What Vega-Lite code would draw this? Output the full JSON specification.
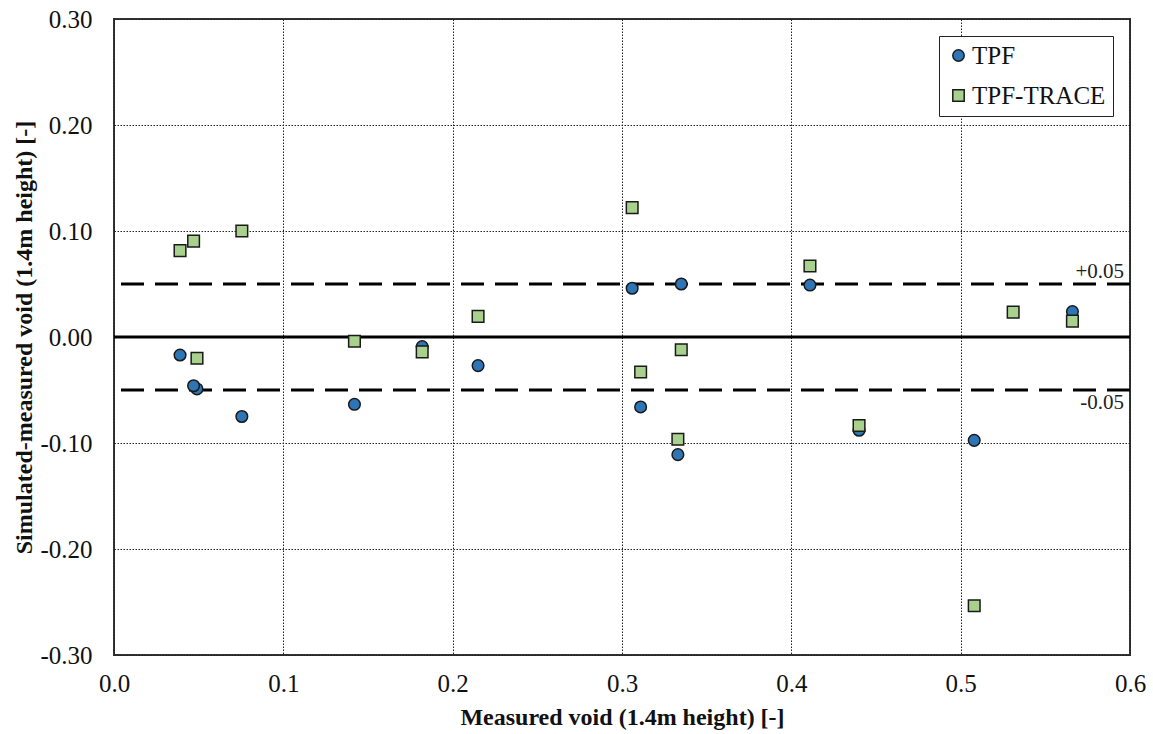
{
  "$schema": "https://vega.github.io/schema/vega-lite/v6.json",
  "autosize": "none",
  "width": 1016,
  "height": 636,
  "padding": {"left": 114, "top": 19, "right": 23, "bottom": 79},
  "background": "white",
  "config": {
    "view": {"stroke": "#333333", "strokeWidth": 2},
    "font": "Liberation Serif",
    "axis": {
      "labelFont": "Liberation Serif",
      "labelFontSize": 25,
      "labelColor": "#111111",
      "labelFlush": false,
      "labelOverlap": false,
      "titleFont": "Liberation Serif",
      "titleFontSize": 24,
      "titleFontWeight": "bold",
      "titleColor": "#111111",
      "domain": false,
      "ticks": false,
      "grid": true,
      "gridColor": "#222222",
      "gridWidth": 1,
      "gridDash": [1.5, 1.5],
      "gridOpacity": 1
    }
  },
  "datasets": {
    "points": [
      {"series": "TPF", "measured": 0.039, "diff": -0.017},
      {"series": "TPF", "measured": 0.049, "diff": -0.049},
      {"series": "TPF", "measured": 0.047, "diff": -0.046},
      {"series": "TPF", "measured": 0.0755, "diff": -0.075},
      {"series": "TPF", "measured": 0.142, "diff": -0.0635},
      {"series": "TPF", "measured": 0.182, "diff": -0.009},
      {"series": "TPF", "measured": 0.215, "diff": -0.027},
      {"series": "TPF", "measured": 0.306, "diff": 0.046},
      {"series": "TPF", "measured": 0.335, "diff": 0.050},
      {"series": "TPF", "measured": 0.311, "diff": -0.066},
      {"series": "TPF", "measured": 0.333, "diff": -0.111},
      {"series": "TPF", "measured": 0.411, "diff": 0.049},
      {"series": "TPF", "measured": 0.440, "diff": -0.088},
      {"series": "TPF", "measured": 0.508, "diff": -0.0975},
      {"series": "TPF", "measured": 0.566, "diff": 0.024},
      {"series": "TPF-TRACE", "measured": 0.039, "diff": 0.0815},
      {"series": "TPF-TRACE", "measured": 0.047, "diff": 0.0905},
      {"series": "TPF-TRACE", "measured": 0.0755, "diff": 0.100},
      {"series": "TPF-TRACE", "measured": 0.049, "diff": -0.020},
      {"series": "TPF-TRACE", "measured": 0.142, "diff": -0.004},
      {"series": "TPF-TRACE", "measured": 0.182, "diff": -0.014},
      {"series": "TPF-TRACE", "measured": 0.215, "diff": 0.0195},
      {"series": "TPF-TRACE", "measured": 0.306, "diff": 0.122},
      {"series": "TPF-TRACE", "measured": 0.411, "diff": 0.067},
      {"series": "TPF-TRACE", "measured": 0.335, "diff": -0.012},
      {"series": "TPF-TRACE", "measured": 0.311, "diff": -0.033},
      {"series": "TPF-TRACE", "measured": 0.333, "diff": -0.0965},
      {"series": "TPF-TRACE", "measured": 0.440, "diff": -0.0835},
      {"series": "TPF-TRACE", "measured": 0.531, "diff": 0.0235},
      {"series": "TPF-TRACE", "measured": 0.566, "diff": 0.015},
      {"series": "TPF-TRACE", "measured": 0.508, "diff": -0.2535}
    ],
    "bands": [
      {"level": 0.05, "label": "+0.05"},
      {"level": -0.05, "label": "-0.05"}
    ],
    "zero": [{"level": 0}]
  },
  "encoding": {
    "x": {
      "type": "quantitative",
      "scale": {"domain": [0, 0.6], "nice": false},
      "axis": {
        "title": "Measured void (1.4m height) [-]",
        "values": [0, 0.1, 0.2, 0.3, 0.4, 0.5, 0.6],
        "format": ".1f",
        "labelPadding": 16,
        "titlePadding": 9
      }
    },
    "y": {
      "type": "quantitative",
      "scale": {"domain": [-0.3, 0.3], "nice": false},
      "axis": {
        "title": "Simulated-measured void (1.4m height) [-]",
        "values": [-0.3, -0.2, -0.1, 0, 0.1, 0.2, 0.3],
        "labelExpr": "replace(format(datum.value, '.2f'), '\u2212', '-')",
        "labelPadding": 22,
        "titlePadding": 3
      }
    }
  },
  "layer": [
    {
      "data": {"name": "bands"},
      "mark": {"type": "rule", "color": "#000000", "strokeWidth": 3, "strokeDash": [23, 11]},
      "encoding": {"y": {"field": "level"}}
    },
    {
      "data": {"name": "zero"},
      "mark": {"type": "rule", "color": "#000000", "strokeWidth": 3},
      "encoding": {"y": {"field": "level"}}
    },
    {
      "data": {"name": "bands"},
      "transform": [{"filter": "datum.level > 0"}],
      "mark": {"type": "text", "align": "right", "baseline": "bottom", "font": "Liberation Serif", "fontSize": 21, "color": "#222222", "dx": -6, "dy": -2},
      "encoding": {
        "x": {"datum": 0.6},
        "y": {"field": "level"},
        "text": {"field": "label"}
      }
    },
    {
      "data": {"name": "bands"},
      "transform": [{"filter": "datum.level < 0"}],
      "mark": {"type": "text", "align": "right", "baseline": "top", "font": "Liberation Serif", "fontSize": 21, "color": "#222222", "dx": -6, "dy": 2},
      "encoding": {
        "x": {"datum": 0.6},
        "y": {"field": "level"},
        "text": {"field": "label"}
      }
    },
    {
      "data": {"name": "points"},
      "mark": {"type": "point", "filled": true, "size": 135, "stroke": "#1a1a1a", "strokeWidth": 1.5, "opacity": 1},
      "encoding": {
        "x": {"field": "measured"},
        "y": {"field": "diff"},
        "shape": {
          "field": "series",
          "type": "nominal",
          "scale": {"domain": ["TPF", "TPF-TRACE"], "range": ["circle", "square"]},
          "legend": null
        },
        "color": {
          "field": "series",
          "type": "nominal",
          "scale": {"domain": ["TPF", "TPF-TRACE"], "range": ["#2E75B6", "#A9D18E"]},
          "legend": {
            "title": null,
            "orient": "none",
            "legendX": 825,
            "legendY": 17,
            "fillColor": "white",
            "strokeColor": "#222222",
            "padding": 7,
            "labelFont": "Liberation Serif",
            "labelFontSize": 25,
            "labelColor": "#111111",
            "labelOffset": 1,
            "rowPadding": 14,
            "symbolSize": 130,
            "symbolStrokeColor": "#1a1a1a",
            "symbolStrokeWidth": 1.5,
            "symbolOpacity": 1
          }
        }
      }
    }
  ]
}
